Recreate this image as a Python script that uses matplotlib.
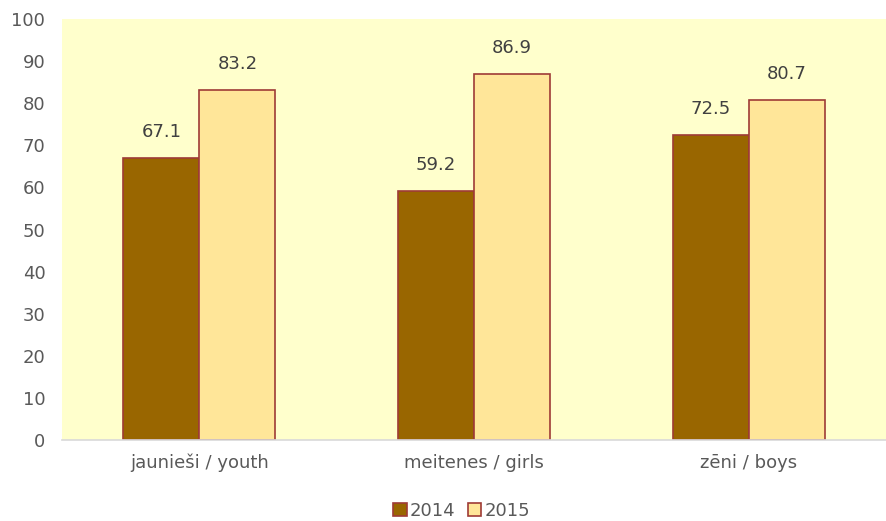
import matplotlib
matplotlib.use("Agg")
import matplotlib.pyplot as plt
import numpy as np

categories = ["jaunieši / youth", "meitenes / girls", "zēni / boys"]
series_names = ["2014", "2015"]
values_2014 = [67.1, 59.2, 72.5]
values_2015 = [83.2, 86.9, 80.7]

plt.rcParams['font.family'] = ['DejaVu Sans']

fig = plt.figure(figsize=(8.86, 5.21), dpi=100)
ax = fig.add_axes([0.070, 0.1555, 0.930, 0.808])
ax.set_facecolor("#FFFFCC")

x = np.arange(len(categories))
w = 0.277
edge = "#9E3B36"
b1 = ax.bar(x - w/2, values_2014, w, color="#996600", edgecolor=edge, linewidth=1.2, label=series_names[0], zorder=2)
b2 = ax.bar(x + w/2, values_2015, w, color="#FFE699", edgecolor=edge, linewidth=1.2, label=series_names[1], zorder=2)

for bars, vals in ((b1, values_2014), (b2, values_2015)):
    for rect, v in zip(bars, vals):
        ax.text(rect.get_x() + rect.get_width()/2, v + 4.0, f"{v:.1f}",
                ha="center", va="bottom", fontsize=13, color="#404040")

ax.set_xlim(-0.5, 2.5)
ax.set_ylim(0, 100)
ax.set_yticks(range(0, 101, 10))
ax.set_xticks(x)
ax.set_xticklabels(categories)
ax.tick_params(axis="both", length=0, labelsize=13, colors="#595959")
ax.tick_params(axis="y", pad=12)
ax.tick_params(axis="x", pad=10)
for s in ["top", "right", "left"]:
    ax.spines[s].set_visible(False)
ax.spines["bottom"].set_color("#D9D9D9")
ax.spines["bottom"].set_linewidth(1.2)

leg = fig.legend(handles=[b1, b2], labels=series_names, loc="center", bbox_to_anchor=(0.521, 0.02),
                 ncol=2, frameon=False, fontsize=13, handlelength=0.75, handleheight=0.75,
                 handletextpad=0.15, columnspacing=0.7, labelcolor="#595959")

fig.savefig("out.png", dpi=100)
